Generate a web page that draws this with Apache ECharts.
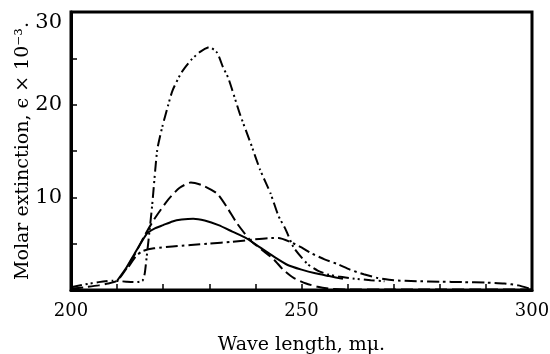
<!DOCTYPE html>
<html><head><meta charset="utf-8">
<script src="https://cdn.jsdelivr.net/npm/echarts@6/dist/echarts.min.js"></script>
<style>html,body{margin:0;padding:0;background:#fff}#c{width:550px;height:354px}</style>
</head><body><div id="c"></div>
<script>
// Data (wavelength in mμ, ε × 10⁻³)
var solidCurve = [[210,1.0],[212,2.4],[214,4.1],[216.5,6.1],[218,6.6],[220,7.0],[222,7.4],[224,7.6],[226.5,7.7],[229,7.5],[232,7.0],[235,6.3],[238,5.6],[241,4.6],[244,3.6],[247,2.7],[250,2.2],[253,1.8],[256,1.5],[259,1.2]];
var dashedCurve = [[200,0.15],[203,0.3],[206,0.5],[208,0.7],[210,1.0],[212,2.3],[214,4.0],[216,5.9],[218,7.6],[221,9.7],[223.5,11.0],[226,11.6],[228.5,11.3],[231.7,10.4],[234,8.8],[236,7.2],[239,5.3],[241.5,4.3],[244,3.3],[246,2.2],[248.3,1.3],[251,0.7],[253.5,0.35],[256,0.15],[260,0.05],[270,0.05],[280,0.05],[290,0.05],[300,0.05]];
var dashDotDotCurve = [[200,0.3],[203,0.6],[206,0.85],[209,1.0],[212,0.9],[214,0.85],[215.5,1.0],[216,1.8],[216.4,3.5],[216.8,5.3],[217.6,9.1],[218.7,15.1],[219.8,17.6],[221,19.8],[222,21.5],[224,23.5],[226,24.8],[228,25.7],[230,26.2],[231.7,25.6],[233,24.0],[234.1,22.9],[236.7,18.9],[239,15.8],[241,13.0],[243.3,10.4],[245,8.0],[246.5,6.6],[248.3,4.6],[251.3,2.8],[253.5,2.1],[255.6,1.7],[258,1.45],[261,1.25],[265,1.05],[268,0.95]];
var dashDotCurve = [[212.5,2.5],[214,3.6],[215.5,4.2],[218,4.5],[222,4.7],[226,4.85],[230,5.0],[235,5.2],[239.6,5.45],[243.3,5.6],[245,5.6],[247.5,5.2],[250,4.6],[252,4.0],[255,3.3],[257.8,2.8],[260.5,2.2],[263.5,1.7],[266.5,1.3],[270,1.05],[275,0.95],[280,0.9],[285,0.85],[290,0.8],[294,0.7],[297,0.5],[299.5,0.15]];
var xTickLabels = [200,250,300];
var yTickLabels = [10,20,30];
var xTitle = 'Wave length, m\u03bc.';
var yTitle = 'Molar extinction, \u03f5 \u00d7 10\u207b\u00b3.';

var FONT = 'DejaVu Serif';
var chart = echarts.init(document.getElementById('c'), null, {renderer:'canvas'});
function mk(data, type){
  return {type:'line', data:data, showSymbol:false, smooth:0.2, silent:true,
    lineStyle:{color:'#000', width:2, type:type}};
}
chart.setOption({
  animation:false,
  backgroundColor:'#fff',
  grid:{left:71, right:18, top:12, bottom:64, containLabel:false, outerBoundsMode:'none',
    show:true, borderColor:'#000', borderWidth:3, backgroundColor:'transparent'},
  xAxis:{type:'value', min:200, max:300, interval:10,
    name:xTitle, nameLocation:'middle', nameGap:46, nameMoveOverlap:false,
    nameTextStyle:{fontFamily:FONT, fontSize:19, color:'#000'},
    axisLine:{lineStyle:{color:'#000', width:3}},
    axisTick:{inside:true, length:6, lineStyle:{color:'#000', width:1.5}},
    axisLabel:{fontFamily:FONT, fontSize:18, color:'#000', margin:12,
      formatter:function(v){return xTickLabels.indexOf(v)>=0? String(v):'';}},
    splitLine:{show:false}},
  yAxis:{type:'value', min:0, max:30, interval:5,
    name:yTitle, nameLocation:'middle', nameGap:38, nameMoveOverlap:false,
    nameTextStyle:{fontFamily:FONT, fontSize:19, color:'#000'},
    axisLine:{lineStyle:{color:'#000', width:3}},
    axisTick:{inside:true, length:6, lineStyle:{color:'#000', width:1.5}},
    axisLabel:{fontFamily:FONT, fontSize:21, color:'#000', margin:9,
      formatter:function(v){
        if(yTickLabels.indexOf(v)<0) return '';
        return v===30 ? '{t|'+v+'}' : String(v);
      },
      rich:{t:{fontFamily:FONT, fontSize:21, color:'#000', padding:[22,0,0,0]}}},
    splitLine:{show:false}},
  series:[
    mk(solidCurve,'solid'),
    mk(dashedCurve,[12,5]),
    mk(dashDotDotCurve,[11,4,2,3,2,4]),
    mk(dashDotCurve,[12,4,2.5,4])
  ]
});
</script></body></html>
